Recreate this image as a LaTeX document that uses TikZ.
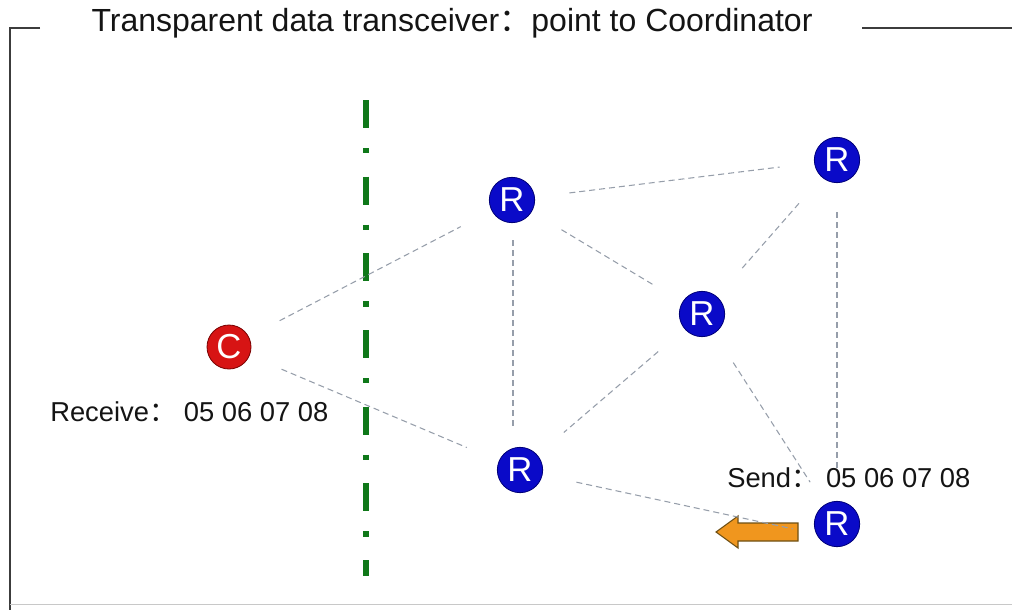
\documentclass[tikz,border=0pt]{standalone}
\usepackage{fontspec}
\setmainfont{Liberation Sans}
\newfontfamily\cjk{Noto Sans CJK SC}
\begin{document}
\begin{tikzpicture}[x=0.75pt,y=-0.75pt,
  nodeR/.style={circle,fill={rgb,255:red,10;green,10;blue,200},draw={rgb,255:red,0;green,0;blue,120},line width=0.6pt,minimum size=34pt,inner sep=0pt,text=white,font=\fontsize{26}{26}\selectfont},
  nodeC/.style={circle,fill={rgb,255:red,215;green,20;blue,20},draw={rgb,255:red,120;green,0;blue,0},line width=0.6pt,minimum size=33pt,inner sep=0pt,text=white,font=\fontsize{26}{26}\selectfont},
  link/.style={draw={rgb,255:red,150;green,158;blue,170},line width=0.8pt,dash pattern=on 4.5pt off 3pt,shorten >=26pt,shorten <=26pt},
  frame/.style={draw={rgb,255:red,60;green,60;blue,60},line width=0.9pt},
  lbl/.style={font=\fontsize{20.5}{20.5}\selectfont,text={rgb,255:red,20;green,20;blue,20},inner sep=0pt,anchor=west}
]
\useasboundingbox (0,0) rectangle (1012,610);
% frame
\draw[frame] (40,28) -- (10,28) -- (10,610);
\draw[frame] (862,28) -- (1012,28);
\draw[draw={rgb,255:red,200;green,200;blue,200},line width=0.6pt] (10,604) -- (1012,604);
\node[font=\fontsize{24}{24}\selectfont,text={rgb,255:red,20;green,20;blue,20},inner sep=0pt] (title) at (452,23) {Transparent data transceiver{\cjk ：}point to Coordinator};
% green dash-dot separator
\coordinate (gtop) at (366,100);
\coordinate (gbot) at (366,576);
\draw[draw={rgb,255:red,15;green,120;blue,25},line width=4pt,dash pattern=on 21pt off 15pt on 4pt off 17.5pt] (gtop) -- (gbot);
% nodes
\node[nodeC] (C) at (229,347) {C};
\node[nodeR] (R1) at (512,200) {R};
\node[nodeR] (R2) at (837,160) {R};
\node[nodeR] (R3) at (702,314) {R};
\node[nodeR] (R4) at (520,470) {R};
\node[nodeR] (R5) at (837,524) {R};
% orange arrow
\filldraw[fill={rgb,255:red,240;green,150;blue,30},draw={rgb,255:red,110;green,80;blue,20},line width=0.8pt]
  (716,532) -- (738,516) -- (738,523) -- (798,523) -- (798,541) -- (738,541) -- (738,548) -- cycle;
\coordinate (r5in) at (798,530);
% links
\draw[link] (C) -- (R1);
\draw[link] (C) -- (R4);
\draw[link] (R1) -- (R2);
\draw[link] (R1) -- (R3);
\draw[link,shorten >=30pt,shorten <=30pt] (513,200) -- (513,470);
\draw[link] (R2) -- (R3);
\draw[link,shorten <=22pt,shorten >=22pt] (R2) -- (R5);
\draw[link] (R3) -- (R4);
\draw[link,shorten >=20pt] (R3) -- (R5);
\draw[link,shorten >=4pt] (R4) -- (r5in);
% labels
\node[lbl] (recv) at (50,412) {Receive{\cjk ：}\ 05 06 07 08};
\node[lbl] (send) at (727,478) {Send{\cjk ：}\ 05 06 07 08};
\end{tikzpicture}
\end{document}
